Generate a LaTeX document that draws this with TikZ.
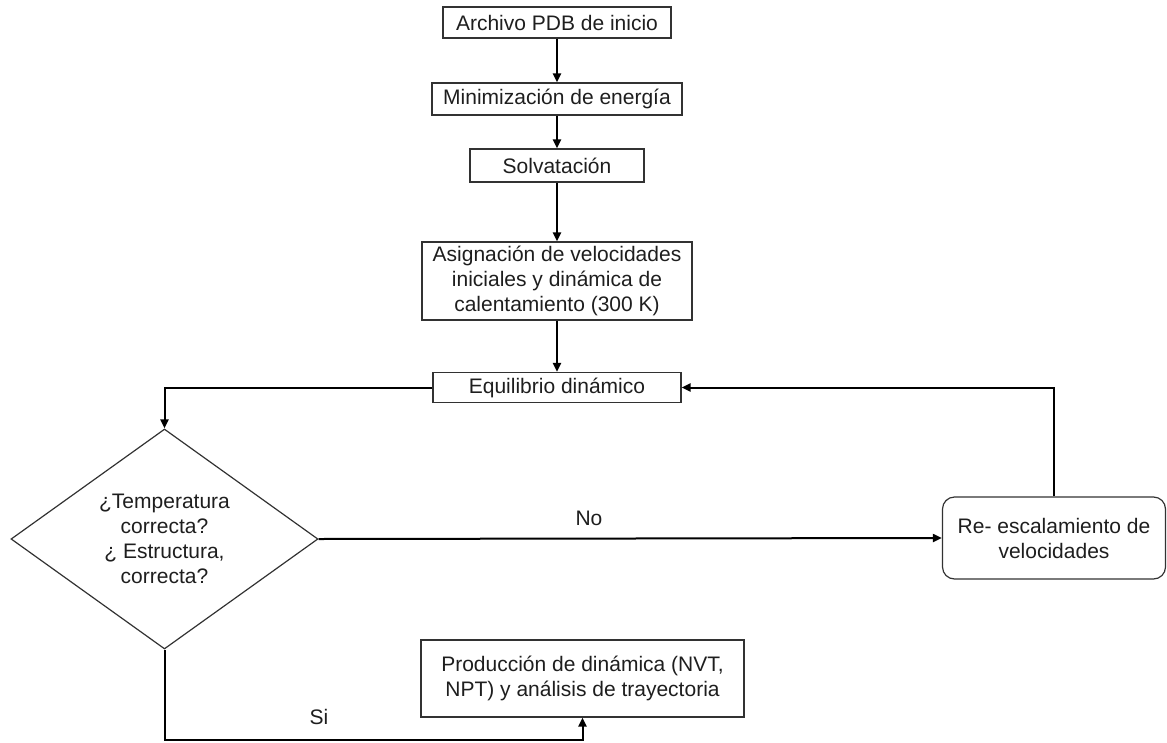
\documentclass[tikz,border=0pt]{standalone}
\usepackage{fontspec}
\setmainfont{Liberation Sans}
\usetikzlibrary{shapes.geometric,arrows.meta}
\definecolor{edgegray}{RGB}{50,50,50}
\definecolor{textgray}{RGB}{30,30,30}
\begin{document}
\begin{tikzpicture}[
        x=1pt, y=-1pt,
        font=\fontsize{21}{25}\selectfont,
        text=textgray,
        box/.style={draw=edgegray, line width=1.2pt, inner sep=0pt, align=center},
        roundbox/.style={box, rounded corners=12pt},
        decision/.style={diamond, draw=edgegray, line width=1.2pt, inner sep=0pt,
            aspect=1.4, align=center, minimum width=307pt, minimum height=220pt},
        line/.style={line width=2pt, -{Triangle[length=9pt,width=8pt]}}
    ]
    \useasboundingbox (0,0) rectangle (1167,742);

    % main column
    \node[box, minimum width=228pt, minimum height=31pt] (inicio) at (557,22.5) {Archivo PDB de inicio};
    \node[box, minimum width=250pt, minimum height=32pt] (minim) at (557,99) {Minimización de energía};
    \node[box, minimum width=174pt, minimum height=33pt] (solv) at (557,165.5) {Solvatación};
    \node[box, minimum width=270pt, minimum height=78pt] (asign) at (557,281)
        {Asignación de velocidades\\ iniciales y dinámica de\\ calentamiento (300 K)};
    \node[box, minimum width=248pt, minimum height=30pt] (equil) at (557,387.5) {Equilibrio dinámico};

    % decision and loop
    \node[decision] (dec) at (164.5,539)
        {¿Temperatura\\ correcta?\\ ¿ Estructura,\\ correcta?};
    \node[roundbox, minimum width=223pt, minimum height=82pt] (reesc) at (1054,538)
        {Re- escalamiento de\\ velocidades};
    \node[box, minimum width=323pt, minimum height=77pt] (prod) at (582.5,678.5)
        {Producción de dinámica (NVT,\\ NPT) y análisis de trayectoria};

    \node (no) at (589,518) {No};
    \node (si) at (319,717) {Si};
    \coordinate (low) at (164.5,740);

    \draw[line] (inicio) -- (minim);
    \draw[line] (minim) -- (solv);
    \draw[line] (solv) -- (asign);
    \draw[line] (asign) -- (equil);
    \draw[line] (equil.west) -| (dec.north);
    \draw[line] (dec.east) -- (reesc.west);
    \draw[line] (reesc.north) |- (equil.east);
    \draw[line] (dec.south) -- (low) -| (prod.south);
\end{tikzpicture}
\end{document}
